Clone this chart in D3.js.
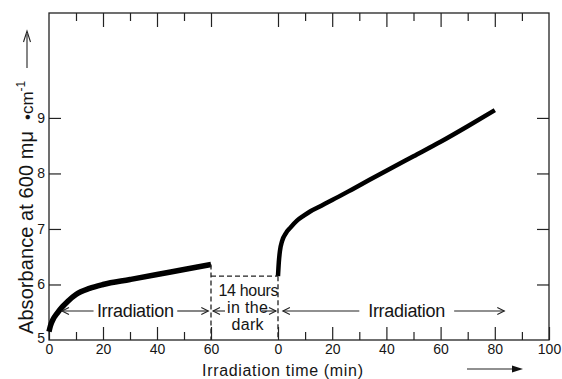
<!DOCTYPE html>
<html>
<head>
<meta charset="utf-8">
<script src="https://cdn.jsdelivr.net/npm/d3@7"></script>
<style>
  body { margin: 0; background: #fff; }
  svg { display: block; }
  text { font-family: "Liberation Sans", Arial, sans-serif; fill: #151515; }
  .axis path.domain { display: none; }
  .axis line { stroke: #222; stroke-width: 1.2; }
  .axis text { font-size: 14px; }
</style>
</head>
<body>
<div id="chart"></div>
<script>
// first irradiation period (min) and absorbance
var timeA = [0, 0.5, 1.5, 3, 5, 7, 10, 15, 20, 30, 40, 50, 60];
var absA  = [5.15, 5.25, 5.37, 5.48, 5.6, 5.7, 5.82, 5.93, 6.0, 6.09, 6.18, 6.27, 6.36];

// second irradiation period, after 14 hours in the dark
var timeB = [0, 0.3, 0.7, 1.5, 3, 4.5, 7, 9.5, 12, 16, 20, 28, 40, 50, 60, 70, 80];
var absB  = [6.15, 6.4, 6.6, 6.78, 6.93, 7.02, 7.15, 7.24, 7.32, 7.42, 7.52, 7.73, 8.05, 8.31, 8.57, 8.85, 9.14];

var darkLevel = 6.15;

var majorA = [0, 20, 40, 60], minorA = [10, 30, 50];
var majorB = [0, 20, 40, 60, 80, 100], minorB = [10, 30, 50, 70, 90];
var yTicks = [5, 6, 7, 8, 9];

var width = 562, height = 379;
var m = {left: 49, right: 549, top: 13, bottom: 340};

var svg = d3.select("#chart").append("svg")
  .attr("width", width)
  .attr("height", height);

var xA = d3.scaleLinear().domain([0, 60]).range([m.left, 211]);
var xB = d3.scaleLinear().domain([0, 100]).range([278, m.right]);
var y = d3.scaleLinear().domain([5, 10.89]).range([m.bottom, m.top]);

// frame
svg.append("rect")
  .attr("x", m.left).attr("y", m.top)
  .attr("width", m.right - m.left).attr("height", m.bottom - m.top)
  .attr("fill", "none").attr("stroke", "#222").attr("stroke-width", 1.3);

function addAxis(axis, tx, ty, noLabels) {
  var g = svg.append("g").attr("class", "axis")
    .attr("transform", "translate(" + tx + "," + ty + ")")
    .call(axis);
  if (noLabels) g.selectAll("text").remove();
  return g;
}

// bottom ticks (pointing inward)
addAxis(d3.axisBottom(xA).tickValues(majorA).tickSize(-13).tickPadding(4).tickFormat(d3.format("d")), 0, m.bottom);
addAxis(d3.axisBottom(xA).tickValues(minorA).tickSize(-8), 0, m.bottom, true);
addAxis(d3.axisBottom(xB).tickValues(majorB).tickSize(-13).tickPadding(4).tickFormat(d3.format("d")), 0, m.bottom);
addAxis(d3.axisBottom(xB).tickValues(minorB).tickSize(-8), 0, m.bottom, true);

// top ticks
addAxis(d3.axisTop(xA).tickValues(majorA.slice(1)).tickSize(-14), 0, m.top, true);
addAxis(d3.axisTop(xA).tickValues(minorA).tickSize(-8), 0, m.top, true);
addAxis(d3.axisTop(xB).tickValues(majorB.slice(0, 5)).tickSize(-14), 0, m.top, true);
addAxis(d3.axisTop(xB).tickValues(minorB).tickSize(-8), 0, m.top, true);

// left and right ticks
var yl = addAxis(d3.axisLeft(y).tickValues(yTicks).tickSize(-12).tickPadding(4).tickFormat(d3.format("d")), m.left, 0);
yl.selectAll(".tick").filter(function(d) { return d === 5; })
  .call(function(t) {
    t.select("line").remove();
    t.select("text").attr("dy", "0.15em");
  });
addAxis(d3.axisRight(y).tickValues(yTicks.slice(1)).tickSize(-12), m.right, 0, true);

// curves
var lineA = d3.line().x(function(d, i) { return xA(timeA[i]); }).y(function(d) { return y(d); }).curve(d3.curveMonotoneX);
var lineB = d3.line().x(function(d, i) { return xB(timeB[i]); }).y(function(d) { return y(d); }).curve(d3.curveMonotoneX);

svg.append("path").datum(absA).attr("d", lineA)
  .attr("fill", "none").attr("stroke", "#000").attr("stroke-width", 5.5).attr("stroke-linecap", "butt");
svg.append("path").datum(absB).attr("d", lineB)
  .attr("fill", "none").attr("stroke", "#000").attr("stroke-width", 4.5).attr("stroke-linecap", "butt");

// dark period connectors
var dash = svg.append("g").attr("stroke", "#222").attr("stroke-width", 1.3).attr("stroke-dasharray", "5,3").attr("fill", "none");
dash.append("line").attr("x1", xA(60)).attr("x2", xA(60)).attr("y1", y(absA[absA.length - 1])).attr("y2", m.bottom);
dash.append("line").attr("x1", xA(60)).attr("x2", xB(0)).attr("y1", y(darkLevel)).attr("y2", y(darkLevel));
dash.append("line").attr("x1", xB(0)).attr("x2", xB(0)).attr("y1", y(darkLevel)).attr("y2", m.bottom);

// annotation arrows
var ann = svg.append("g").attr("stroke", "#222").attr("stroke-width", 1.1).attr("fill", "none");
function arrow(x1, x2, yy) {
  // head at x2
  var s = x2 > x1 ? -1 : 1;
  ann.append("line").attr("x1", x1).attr("x2", x2).attr("y1", yy).attr("y2", yy);
  ann.append("path").attr("d", "M" + (x2 + s * 7) + "," + (yy - 3.5) + "L" + x2 + "," + yy + "L" + (x2 + s * 7) + "," + (yy + 3.5));
}
var ay = 311;
arrow(xA(16.5), xA(4.8), ay);
arrow(xA(47.5), xA(59), ay);
arrow(xA(60) + 14, xA(60) + 2, ay);
arrow(xB(0) - 16, xB(0) - 2, ay);
arrow(xB(30), xB(1.8), ay);
arrow(xB(65), xB(83.5), ay);

svg.append("text").attr("x", (xA(16.5) + xA(47.5)) / 2).attr("y", ay + 6)
  .attr("text-anchor", "middle").style("font-size", "18px")
  .attr("textLength", 77).text("Irradiation");
svg.append("text").attr("x", (xB(30) + xB(65)) / 2).attr("y", ay + 6)
  .attr("text-anchor", "middle").style("font-size", "18px")
  .attr("textLength", 77).text("Irradiation");

var midX = (xA(60) + xB(0)) / 2 + 4;
svg.append("text").attr("x", midX).attr("y", 296).attr("text-anchor", "middle")
  .style("font-size", "16px").attr("textLength", 60).text("14 hours");
svg.append("text").attr("x", midX - 1).attr("y", 313).attr("text-anchor", "middle")
  .style("font-size", "16px").attr("textLength", 41).text("in the");
svg.append("text").attr("x", midX - 1).attr("y", 330).attr("text-anchor", "middle")
  .style("font-size", "16px").attr("textLength", 32).text("dark");

// axis titles
svg.append("text").attr("x", 202).attr("y", 376)
  .style("font-size", "16px").attr("textLength", 161).text("Irradiation time (min)");
svg.append("line").attr("x1", 467).attr("x2", 516).attr("y1", 369).attr("y2", 369)
  .attr("stroke", "#222").attr("stroke-width", 1.1);
svg.append("path").attr("d", "M512,365.5L523,369L512,372.5Z").attr("fill", "#111");

var ylab = svg.append("g").attr("transform", "translate(33,334) rotate(-90)");
ylab.append("text").attr("x", 0).attr("y", 0).style("font-size", "20px")
  .attr("textLength", 203).text("Absorbance at 600 m\u03bc");
var cm = ylab.append("text").attr("x", 214).attr("y", 0).style("font-size", "17px");
cm.append("tspan").text("\u2022cm");
cm.append("tspan").attr("dy", -8).style("font-size", "12px").text("-1");

svg.append("line").attr("x1", 27).attr("x2", 27).attr("y1", 68).attr("y2", 34)
  .attr("stroke", "#222").attr("stroke-width", 1.1);
svg.append("path").attr("d", "M23.5,42L27,31L30.5,42").attr("fill", "none").attr("stroke", "#222").attr("stroke-width", 1.1);
</script>
</body>
</html>
